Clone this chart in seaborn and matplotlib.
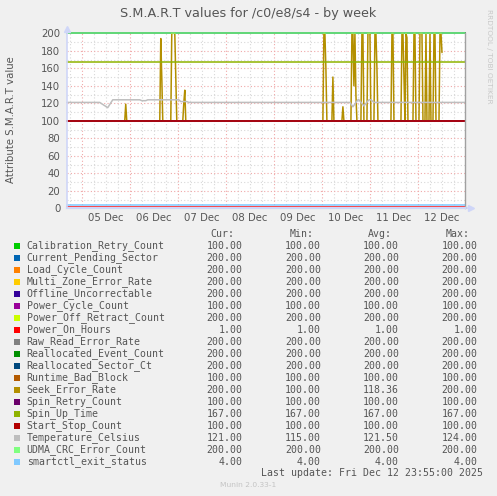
import matplotlib
matplotlib.use("Agg")
import matplotlib.pyplot as plt
from matplotlib.patches import Rectangle
import seaborn as sns
import pandas as pd

W, H = 497, 496

# ---------------- data ----------------
series_names = [
    "Calibration_Retry_Count", "Current_Pending_Sector", "Load_Cycle_Count",
    "Multi_Zone_Error_Rate", "Offline_Uncorrectable", "Power_Cycle_Count",
    "Power_Off_Retract_Count", "Power_On_Hours", "Raw_Read_Error_Rate",
    "Reallocated_Event_Count", "Reallocated_Sector_Ct", "Runtime_Bad_Block",
    "Seek_Error_Rate", "Spin_Retry_Count", "Spin_Up_Time", "Start_Stop_Count",
    "Temperature_Celsius", "UDMA_CRC_Error_Count", "smartctl_exit_status",
]
series_colors = [
    "#00CC00", "#0066B3", "#FF8000", "#FFCC00", "#330099", "#990099",
    "#CCFF00", "#FF0000", "#808080", "#008F00", "#00487D", "#B35A00",
    "#B38F00", "#6B006B", "#8FB300", "#B30000", "#BEBEBE", "#80FF80",
    "#80C9FF",
]
cur_vals = ["100.00", "200.00", "200.00", "200.00", "200.00", "100.00", "200.00",
            "1.00", "200.00", "200.00", "200.00", "100.00", "200.00", "100.00",
            "167.00", "100.00", "121.00", "200.00", "4.00"]
min_vals = ["100.00", "200.00", "200.00", "200.00", "200.00", "100.00", "200.00",
            "1.00", "200.00", "200.00", "200.00", "100.00", "100.00", "100.00",
            "167.00", "100.00", "115.00", "200.00", "4.00"]
avg_vals = ["100.00", "200.00", "200.00", "200.00", "200.00", "100.00", "200.00",
            "1.00", "200.00", "200.00", "200.00", "100.00", "118.36", "100.00",
            "167.00", "100.00", "121.50", "200.00", "4.00"]
max_vals = ["100.00", "200.00", "200.00", "200.00", "200.00", "100.00", "200.00",
            "1.00", "200.00", "200.00", "200.00", "100.00", "200.00", "100.00",
            "167.00", "100.00", "124.00", "200.00", "4.00"]
# constant series levels (all except Seek_Error_Rate and Temperature_Celsius)
const_levels = [100, 200, 200, 200, 200, 100, 200, 1, 200, 200, 200, 100,
                None, 100, 167, 100, None, 200, 4]

t_start = "2025-12-04 16:30"
t_end = "2025-12-12 23:30"

seek_times = [
    "2025-12-04 16:30", "2025-12-05 21:30", "2025-12-05 22:00", "2025-12-05 22:30",
    "2025-12-06 15:00", "2025-12-06 15:30", "2025-12-06 16:00", "2025-12-06 16:30",
    "2025-12-06 20:30", "2025-12-06 21:00", "2025-12-06 22:30", "2025-12-06 23:00", "2025-12-06 23:30",
    "2025-12-07 02:30", "2025-12-07 03:00", "2025-12-07 03:30", "2025-12-07 04:00",
    "2025-12-10 00:30", "2025-12-10 01:00", "2025-12-10 01:30", "2025-12-10 02:00", "2025-12-10 02:30",
    "2025-12-10 05:00", "2025-12-10 05:30", "2025-12-10 06:00",
    "2025-12-10 10:00", "2025-12-10 10:30", "2025-12-10 11:00",
    "2025-12-10 14:30", "2025-12-10 15:00", "2025-12-10 15:30", "2025-12-10 16:00",
    "2025-12-10 16:30", "2025-12-10 17:00", "2025-12-10 17:30",
    "2025-12-10 19:30", "2025-12-10 20:00", "2025-12-10 20:30", "2025-12-10 21:00",
    "2025-12-10 22:30", "2025-12-10 23:00", "2025-12-11 00:00", "2025-12-11 00:30",
    "2025-12-11 02:00", "2025-12-11 02:30", "2025-12-11 03:00", "2025-12-11 03:30", "2025-12-11 04:00",
    "2025-12-11 10:30", "2025-12-11 11:00", "2025-12-11 11:30", "2025-12-11 12:00",
    "2025-12-11 15:30", "2025-12-11 16:00", "2025-12-11 16:30", "2025-12-11 17:00",
    "2025-12-11 17:30", "2025-12-11 18:00", "2025-12-11 18:30", "2025-12-11 19:00",
    "2025-12-11 21:30", "2025-12-11 22:00", "2025-12-11 22:30", "2025-12-11 23:00",
    "2025-12-12 00:30", "2025-12-12 01:00", "2025-12-12 02:00", "2025-12-12 02:30",
    "2025-12-12 03:30", "2025-12-12 04:00", "2025-12-12 04:30",
    "2025-12-12 05:30", "2025-12-12 06:00", "2025-12-12 06:30",
    "2025-12-12 07:30", "2025-12-12 08:00", "2025-12-12 08:30", "2025-12-12 09:00",
    "2025-12-12 10:30", "2025-12-12 11:00", "2025-12-12 11:30", "2025-12-12 12:00",
]
seek_values = [
    100, 100, 119, 100,
    100, 194, 150, 100,
    100, 200, 200, 150, 100,
    100, 120, 135, 100,
    100, 200, 200, 160, 100,
    100, 150, 100,
    100, 116, 100,
    100, 200, 200, 140,
    200, 130, 100,
    100, 200, 200, 100,
    100, 200, 200, 100,
    100, 200, 200, 160, 100,
    100, 200, 200, 100,
    100, 200, 200, 150,
    100, 200, 195, 100,
    100, 200, 200, 100,
    100, 200, 200, 100,
    100, 200, 100,
    100, 200, 100,
    100, 200, 200, 100,
    100, 200, 200, 178,
]

temp_times = [
    "2025-12-04 16:30", "2025-12-05 09:00", "2025-12-05 13:00", "2025-12-05 15:30",
    "2025-12-06 05:00", "2025-12-06 06:00", "2025-12-06 08:00", "2025-12-06 09:00",
    "2025-12-07 00:30", "2025-12-07 01:30", "2025-12-07 04:30", "2025-12-07 05:30",
    "2025-12-10 14:00", "2025-12-10 15:30", "2025-12-10 18:00", "2025-12-10 18:30",
    "2025-12-10 21:00", "2025-12-10 23:30", "2025-12-11 00:30", "2025-12-11 02:00",
    "2025-12-12 23:30",
]
temp_values = [121, 121, 115, 124, 124, 123, 123, 124, 124, 122, 122, 121,
               121, 116, 124, 124, 117, 124, 124, 121, 121]

day_labels = ["05 Dec", "06 Dec", "07 Dec", "08 Dec", "09 Dec", "10 Dec", "11 Dec", "12 Dec"]
day_noons = ["2025-12-05 12:00", "2025-12-06 12:00", "2025-12-07 12:00", "2025-12-08 12:00",
             "2025-12-09 12:00", "2025-12-10 12:00", "2025-12-11 12:00", "2025-12-12 12:00"]
y_ticks = [0, 20, 40, 60, 80, 100, 120, 140, 160, 180, 200]

# ---------------- build long table ----------------
rows = []
for name, lvl in zip(series_names, const_levels):
    if name == "Seek_Error_Rate":
        for t, v in zip(seek_times, seek_values):
            rows.append((name, pd.Timestamp(t), v))
    elif name == "Temperature_Celsius":
        for t, v in zip(temp_times, temp_values):
            rows.append((name, pd.Timestamp(t), v))
    else:
        rows.append((name, pd.Timestamp(t_start), lvl))
        rows.append((name, pd.Timestamp(t_end), lvl))
df = pd.DataFrame(rows, columns=["series", "time", "value"])

# ---------------- figure ----------------
sns.set_style("white")
plt.rcParams["font.family"] = ["DejaVu Sans"]

BG = "#F0F0F0"
fig = plt.figure(figsize=(W / 100, H / 100), dpi=100, facecolor=BG)

def fx(x):
    return x / W

def fy(y):
    return 1 - y / H

L, R, T, B = 66.7, 465.0, 33.3, 208.3
ax = fig.add_axes([fx(L), fy(B), (R - L) / W, (B - T) / H])
ax.set_facecolor("white")

x0, x1 = pd.Timestamp(t_start), pd.Timestamp(t_end)
ax.set_xlim(x0, x1)
ax.set_ylim(0, 200)

# grid (drawn below the data)
minor_c = "#D8D8D8"
major_c = "#F0A8A8"
dot = (0, (1, 2))
for v in range(10, 200, 20):
    ax.axhline(v, color=minor_c, lw=0.8, ls=dot, zorder=0.5)
for v in range(20, 200, 20):
    ax.axhline(v, color=major_c, lw=0.8, ls=dot, zorder=0.6)
for t in pd.date_range("2025-12-04 18:00", "2025-12-12 23:00", freq="6h"):
    if t.hour != 0:
        ax.axvline(t, color=minor_c, lw=0.8, ls=dot, zorder=0.5)
for t in pd.date_range("2025-12-05", "2025-12-12", freq="1D"):
    ax.axvline(t, color=major_c, lw=0.8, ls=dot, zorder=0.6)

sns.lineplot(data=df, x="time", y="value", hue="series", hue_order=series_names,
             palette=dict(zip(series_names, series_colors)), estimator=None,
             sort=False, legend=False, linewidth=1.1, ax=ax, zorder=2)
for ln in ax.get_lines():
    if ln.get_zorder() == 2:
        ln.set_clip_on(False)

ax.set_xlabel("")
ax.set_ylabel("")

# axes / spines
axis_c = "#CFD6F8"
ax.spines["top"].set_visible(False)
ax.spines["right"].set_color("#A0A0A0")
ax.spines["right"].set_linewidth(1.0)
ax.spines["left"].set_color(axis_c)
ax.spines["bottom"].set_color(axis_c)
ax.spines["left"].set_linewidth(1.2)
ax.spines["bottom"].set_linewidth(1.6)
ax.spines["bottom"].set_zorder(5)
ax.spines["left"].set_zorder(5)
ax.plot([1.0, 1.014], [0, 0], color=axis_c, lw=1.2, transform=ax.transAxes, clip_on=False)
ax.plot([1.014], [0], marker=">", ms=4, color=axis_c, transform=ax.transAxes, clip_on=False)
ax.plot([0, 0], [1.0, 1.02], color=axis_c, lw=1.2, transform=ax.transAxes, clip_on=False)
ax.plot([0], [1.025], marker="^", ms=4, color=axis_c, transform=ax.transAxes, clip_on=False)

tick_c = "#555555"
ax.set_yticks(y_ticks)
ax.set_yticklabels([str(v) for v in y_ticks])
ax.set_xticks([pd.Timestamp(t) for t in day_noons])
ax.set_xticklabels(day_labels)
ax.tick_params(axis="both", length=0, labelsize=7.3, colors=tick_c)
ax.tick_params(axis="y", pad=4.6)
ax.tick_params(axis="x", pad=3.5)

# texts
fig.text(fx(248), fy(13.5), "S.M.A.R.T values for /c0/e8/s4 - by week",
         ha="center", va="center", fontsize=9.2, color="#555555")
fig.text(fx(11), fy(120), "Attribute S.M.A.R.T value", rotation=90,
         ha="center", va="center", fontsize=7.3, color="#555555")
fig.text(fx(488.5), fy(56.5), "RRDTOOL / TOBI OETIKER", rotation=270,
         ha="center", va="center", fontsize=5.3, color="#C8C8C8")
fig.text(fx(248.5), fy(485), "Munin 2.0.33-1", ha="center", va="center",
         fontsize=5.4, color="#C4C4C4")

mono = "DejaVu Sans Mono"
leg_c = "#555555"
fs = 7.1
col_right = [242.3, 321.0, 399.0, 477.3]
hdr_right = [234.5, 313.3, 391.7, 470.0]
for xr, h in zip(hdr_right, ["Cur:", "Min:", "Avg:", "Max:"]):
    fig.text(fx(xr), fy(234.3), h, ha="right", va="center", family=mono,
             fontsize=fs, color=leg_c)
for i, name in enumerate(series_names):
    yy = 245.7 + 12.0 * i
    fig.patches.append(Rectangle((fx(14), fy(yy + 3)), 6 / W, 6 / H,
                                 transform=fig.transFigure, facecolor=series_colors[i],
                                 edgecolor="none"))
    fig.text(fx(26.7), fy(yy), name, ha="left", va="center", family=mono,
             fontsize=fs, color=leg_c)
    for xr, vals in zip(col_right, [cur_vals, min_vals, avg_vals, max_vals]):
        fig.text(fx(xr), fy(yy), vals[i], ha="right", va="center", family=mono,
                 fontsize=fs, color=leg_c)
fig.text(fx(483.3), fy(473.3), "Last update: Fri Dec 12 23:55:00 2025", ha="right",
         va="center", family=mono, fontsize=fs, color=leg_c)

fig.savefig("out.png", dpi=100, facecolor=BG)
